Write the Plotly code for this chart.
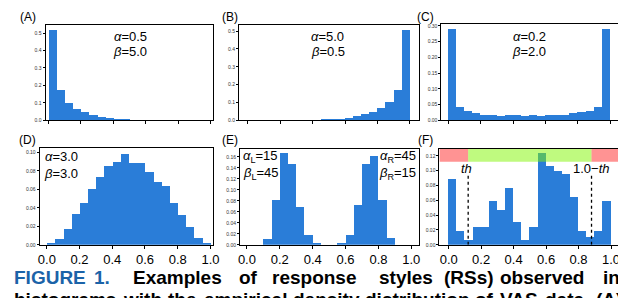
import plotly.graph_objects as go

W, H = 626, 298

bin_centers = [0.025, 0.075, 0.125, 0.175, 0.225, 0.275, 0.325, 0.375, 0.425, 0.475,
               0.525, 0.575, 0.625, 0.675, 0.725, 0.775, 0.825, 0.875, 0.925, 0.975]

vals_A = [0.519, 0.177, 0.099, 0.069, 0.050, 0.034, 0.024, 0.017, 0.011, 0.007,
          0.004, 0.002, 0.001, 0.0005, 0.0003, 0.0002, 0.0001, 0.0, 0.0, 0.0]
vals_B = [0.0, 0.0, 0.0, 0.0, 0.0, 0.0, 0.0003, 0.0008, 0.002, 0.004,
          0.007, 0.011, 0.016, 0.025, 0.035, 0.049, 0.069, 0.104, 0.169, 0.505]
vals_C = [0.290, 0.043, 0.030, 0.023, 0.019, 0.018, 0.016, 0.017, 0.017, 0.014,
          0.017, 0.016, 0.018, 0.018, 0.019, 0.023, 0.027, 0.032, 0.043, 0.290]
vals_D = [0.002, 0.0064, 0.0167, 0.0337, 0.045, 0.060, 0.0727, 0.0855, 0.0897, 0.0982,
          0.0883, 0.0883, 0.079, 0.068, 0.064, 0.045, 0.032, 0.0195, 0.0074, 0.0018]
vals_E = [0.0, 0.0, 0.011, 0.081, 0.166, 0.146, 0.069, 0.018, 0.002, 0.0,
          0.0, 0.0036, 0.018, 0.0725, 0.147, 0.161, 0.081, 0.012, 0.0, 0.0]
vals_F = [0.089, 0.018, 0.0067, 0.024, 0.024, 0.059, 0.047, 0.076, 0.030, 0.0067,
          0.024, 0.124, 0.106, 0.099, 0.095, 0.064, 0.018, 0.011, 0.018, 0.059]

x_ticks = [0.0, 0.2, 0.4, 0.6, 0.8, 1.0]
x_ticklabels = ["0.0", "0.2", "0.4", "0.6", "0.8", "1.0"]
yticks_A = [0.0, 0.1, 0.2, 0.3, 0.4, 0.5]
yticks_C = [0.0, 0.05, 0.10, 0.15, 0.20, 0.25, 0.30]
yticks_D = [0.0, 0.02, 0.04, 0.06, 0.08, 0.10]
yticks_E = [0.0, 0.02, 0.04, 0.06, 0.08, 0.10, 0.12, 0.14, 0.16]
yticks_F = [0.0, 0.02, 0.04, 0.06, 0.08, 0.10, 0.12]

th = 0.12

BAR = "rgb(42,125,216)"
FONT = "Liberation Sans, Arial, sans-serif"

# panel layout in pixel boxes: left, right, top, bottom
panels = [
    dict(name="A", vals=vals_A, box=(36, 206, 16, 113), xr=[-0.018, 1.018], yr=[0, 0.547],
         yt=yticks_A, yfmt=".1f", xlab=False),
    dict(name="B", vals=vals_B, box=(232, 414, 16, 113), xr=[-0.055, 1.055], yr=[0, 0.535],
         yt=yticks_A, yfmt=".1f", xlab=False),
    dict(name="C", vals=vals_C, box=(437, 617, 15, 113), xr=[-0.043, 1.055], yr=[0, 0.307],
         yt=yticks_C, yfmt=".2f", xlab=False),
    dict(name="D", vals=vals_D, box=(30, 206, 141, 239), xr=[-0.044, 1.018], yr=[0, 0.1046],
         yt=yticks_D, yfmt=".2f", xlab=True),
    dict(name="E", vals=vals_E, box=(233, 414, 142, 239), xr=[-0.042, 1.045], yr=[0, 0.174],
         yt=yticks_E, yfmt=".2f", xlab=True),
    dict(name="F", vals=vals_F, box=(435, 617, 142, 239), xr=[-0.057, 1.05], yr=[0, 0.129],
         yt=yticks_F, yfmt=".2f", xlab=True),
]

fig = go.Figure()
layout = dict(width=W, height=H, margin=dict(l=0, r=0, t=0, b=0),
              paper_bgcolor="white", plot_bgcolor="white", showlegend=False,
              bargap=0, font=dict(family=FONT, color="black"))

for i, p in enumerate(panels):
    k = "" if i == 0 else str(i + 1)
    l, r, t, b = p["box"]
    fig.add_trace(go.Bar(x=bin_centers, y=p["vals"], width=0.05,
                         marker=dict(color=BAR, line=dict(width=0)),
                         xaxis="x" + k, yaxis="y" + k, hoverinfo="skip"))
    layout["xaxis" + k] = dict(domain=[l / W, r / W], anchor="y" + k, range=p["xr"],
                               showgrid=False, zeroline=False, showline=True, mirror=True,
                               linecolor="black", linewidth=1, ticks="outside", ticklen=3,
                               tickwidth=0.8, tickcolor="black", tickvals=x_ticks,
                               ticktext=x_ticklabels, showticklabels=p["xlab"],
                               tickfont=dict(size=13, family=FONT))
    layout["yaxis" + k] = dict(domain=[1 - b / H, 1 - t / H], anchor="x" + k, range=p["yr"],
                               showgrid=False, zeroline=False, showline=True, mirror=True,
                               linecolor="black", linewidth=1, ticks="outside", ticklen=2,
                               tickwidth=0.6, tickcolor="black", tickvals=p["yt"],
                               tickformat=p["yfmt"], tickfont=dict(size=5, family=FONT, color="#333"))

fig.update_layout(**layout)

# F panel bands and threshold lines
shapes = [
    dict(type="rect", xref="x6", yref="y6", x0=-0.057, x1=th, y0=0.112, y1=0.129,
         fillcolor="rgba(255,40,40,0.5)", line=dict(width=0), layer="above"),
    dict(type="rect", xref="x6", yref="y6", x0=th, x1=1 - th, y0=0.112, y1=0.129,
         fillcolor="rgba(127,245,0,0.5)", line=dict(width=0), layer="above"),
    dict(type="rect", xref="x6", yref="y6", x0=1 - th, x1=1.05, y0=0.112, y1=0.129,
         fillcolor="rgba(255,40,40,0.5)", line=dict(width=0), layer="above"),
    dict(type="line", xref="x6", yref="y6", x0=th, x1=th, y0=0, y1=0.095,
         line=dict(color="black", width=1.3, dash="dot"), layer="above"),
    dict(type="line", xref="x6", yref="y6", x0=1 - th, x1=1 - th, y0=0, y1=0.095,
         line=dict(color="black", width=1.3, dash="dot"), layer="above"),
]
fig.update_layout(shapes=shapes)

ann = []

def txt(text, px, py, size=13, xanchor="center", color="black", bold=False):
    if bold:
        text = "<b>" + text + "</b>"
    ann.append(dict(text=text, x=px / W, y=1 - py / H, xref="paper", yref="paper",
                    xanchor=xanchor, yanchor="middle", showarrow=False,
                    font=dict(size=size, family=FONT, color=color)))

# panel letters
for lab, px, py in [("(A)", 18, 8), ("(B)", 223, 8), ("(C)", 421, 8),
                    ("(D)", 18, 133), ("(E)", 223, 133), ("(F)", 421, 133)]:
    txt(lab, px, py, size=12)

# parameter labels
txt("<i>α</i>=0.5", 122, 28)
txt("<i>β</i>=5.0", 122, 43)
txt("<i>α</i>=5.0", 322, 28)
txt("<i>β</i>=0.5", 322, 43)
txt("<i>α</i>=0.2", 526, 28)
txt("<i>β</i>=2.0", 526, 43)
txt("<i>α</i>=3.0", 52, 150)
txt("<i>β</i>=3.0", 52, 167)
txt("<i>α</i><sub>L</sub>=15", 254, 150)
txt("<i>β</i><sub>L</sub>=45", 254, 167)
txt("<i>α</i><sub>R</sub>=45", 393, 150)
txt("<i>β</i><sub>R</sub>=15", 393, 167)
txt("<i>th</i>", 462, 162)
txt("1.0−<i>th</i>", 589, 162)

# caption (justified words)
cap1 = [("FIGURE", 2, "#1b63a8"), ("1.", 83, "#1b63a8"), ("Examples", 123, "black"),
        ("of", 230, "black"), ("response", 263, "black"), ("styles", 372, "black"),
        ("(RSs)", 438, "black"), ("observed", 494, "black"), ("in", 599, "black")]
for w, px, c in cap1:
    txt(w, px, 272, size=19, xanchor="left", color=c, bold=True)
cap2 = [("histograms", 2), ("with", 112), ("the", 158), ("empirical", 194),
        ("density", 285), ("distribution", 358), ("of", 469), ("VAS", 494),
        ("data.", 540), ("(A)", 592)]
for w, px in cap2:
    txt(w, px, 294, size=19, xanchor="left", bold=True)

fig.update_layout(annotations=ann)
fig.write_html("out.html")
